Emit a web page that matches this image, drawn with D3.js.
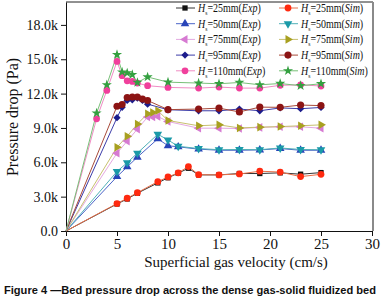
<!DOCTYPE html>
<html>
<head>
<meta charset="utf-8">
<script src="https://cdn.jsdelivr.net/npm/d3@7"></script>
<style>
body { margin: 0; background: #fff; }
svg { display: block; }
</style>
</head>
<body>
<div id="chart"></div>
<script>
// superficial gas velocity (cm/s) and pressure drop (k Pa) per bed height
const vel25 = [0, 5, 6, 7, 9, 10, 11, 12, 13, 15, 17, 19, 21, 23, 25];
const exp25 = [0, 2.36, 2.8, 3.3, 4.2, 4.65, 5.05, 5.48, 4.9, 4.9, 5.02, 5.02, 5.08, 4.96, 5.1];
const sim25 = [0, 2.4, 2.86, 3.35, 4.31, 4.72, 5.08, 5.63, 4.92, 4.9, 4.98, 5.22, 5.15, 4.75, 4.95];

const vel50 = [0, 5, 6, 7, 9, 10, 11, 13, 15, 17, 19, 21, 23, 25];
const exp50 = [0, 4.75, 5.6, 6.45, 8.05, 7.45, 7.35, 7.15, 7.05, 7.05, 7.08, 7.2, 7.05, 7.05];
const sim50 = [0, 5.2, 5.97, 6.8, 8.45, 7.95, 7.4, 7.2, 7.1, 7.12, 7.1, 7.25, 7.12, 7.1];

const vel75 = [0, 5, 6, 7, 8, 8.5, 9, 10, 13, 15, 17, 19, 21, 23, 25];
const exp75 = [0, 6.8, 7.85, 8.9, 9.95, 9.95, 10.0, 9.56, 8.98, 8.98, 8.95, 9.05, 9.1, 9.1, 8.98];
const sim75 = [0, 7.32, 8.28, 9.35, 10.24, 10.35, 10.5, 9.65, 9.19, 9.27, 9.0, 9.07, 9.12, 9.19, 9.27];

const vel95 = [0, 5, 5.5, 6, 6.5, 7, 7.5, 8, 10, 13, 15, 17, 19, 21, 23, 25];
const exp95 = [0, 9.9, 10.8, 11.4, 11.46, 11.6, 11.4, 11.08, 10.59, 10.5, 10.5, 10.65, 10.5, 10.75, 10.68, 10.79];
const sim95 = [0, 10.9, 11.05, 11.66, 11.7, 11.7, 11.52, 11.4, 10.6, 10.65, 10.73, 10.4, 10.82, 10.8, 11.0, 10.95];

const vel110 = [0, 3, 4, 5, 5.5, 6, 6.5, 7, 8, 10, 13, 15, 17, 19, 21, 23, 25];
const exp110 = [0, 9.8, 12.28, 14.81, 13.56, 13.12, 13.06, 12.92, 12.69, 12.54, 12.48, 12.57, 12.48, 12.48, 12.72, 12.77, 12.66];
const sim110 = [0, 10.3, 12.77, 15.4, 13.88, 13.8, 13.65, 12.97, 13.45, 13.0, 12.92, 12.86, 12.97, 12.77, 12.88, 12.69, 12.86];

const heights = ["25", "50", "75", "95", "110"];
const xTicks = [0, 5, 10, 15, 20, 25, 30];
const yTicks = [0, 3, 6, 9, 12, 15, 18];

function PressureChart(id) {
    var self = this;
    self.sectionId = id;
    self.initVis();
}

PressureChart.prototype.initVis = function () {
    var self = this;

    self.width = 386;
    self.height = 308;
    self.plot = { left: 66, right: 372, top: 2, bottom: 231 };

    self.svg = d3.select(`#${self.sectionId}`)
        .append("svg")
        .attr("width", self.width)
        .attr("height", self.height);

    self.x = d3.scaleLinear().domain([0, 30]).range([self.plot.left, self.plot.right]);
    self.y = d3.scaleLinear().domain([0, 20]).range([self.plot.bottom, self.plot.top]);

    // series table built from the arrays above
    let vels = [vel25, vel50, vel75, vel95, vel110];
    let exps = [exp25, exp50, exp75, exp95, exp110];
    let sims = [sim25, sim50, sim75, sim95, sim110];

    // marker + colour style per series (exp, sim)
    let styles = [
        [{ sym: d3.symbolSquare, size: 28, rot: 0, fill: "#111", line: "#333" },
         { sym: d3.symbolCircle, size: 36, rot: 0, fill: "#ff2a10", line: "#e8704a" }],
        [{ sym: d3.symbolTriangle, size: 32, rot: 0, fill: "#2844b8", line: "#4a64c8" },
         { sym: d3.symbolTriangle, size: 32, rot: 180, fill: "#1a9aa8", line: "#50b0b8" }],
        [{ sym: d3.symbolTriangle, size: 32, rot: -90, fill: "#d67ad2", line: "#e4a8e0" },
         { sym: d3.symbolTriangle, size: 32, rot: 90, fill: "#a8a020", line: "#c8c070" }],
        [{ sym: d3.symbolDiamond2, size: 34, rot: 0, fill: "#1c1c8c", line: "#3c3ca8" },
         { sym: d3.symbolCircle, size: 40, rot: 0, fill: "#8c1414", line: "#a84a3a" }],
        [{ sym: d3.symbolCircle, size: 36, rot: 0, fill: "#f0409c", line: "#f08cc4" },
         { sym: d3.symbolStar, size: 32, rot: 0, fill: "#34a040", line: "#78c078" }]
    ];

    self.series = [];
    heights.forEach(function (h, i) {
        self.series.push({ label: h, kind: "Exp", style: styles[i][0],
            points: vels[i].map((v, j) => ({ v: v, p: exps[i][j] })) });
        self.series.push({ label: h, kind: "Sim", style: styles[i][1],
            points: vels[i].map((v, j) => ({ v: v, p: sims[i][j] })) });
    });

    // frame: top and right
    self.svg.append("line")
        .attr("x1", self.plot.left).attr("x2", self.plot.right + 1)
        .attr("y1", self.plot.top).attr("y2", self.plot.top)
        .attr("stroke", "#222").attr("stroke-width", 1);
    self.svg.append("line")
        .attr("x1", self.plot.right + 1).attr("x2", self.plot.right + 1)
        .attr("y1", self.plot.top).attr("y2", self.plot.bottom)
        .attr("stroke", "#8a8a8a").attr("stroke-width", 2);

    self.svg.append("g")
        .attr("transform", `translate(0,${self.plot.bottom})`)
        .call(d3.axisBottom(self.x).tickValues(xTicks).tickSize(5).tickSizeOuter(0).tickFormat(d3.format("d")))
        .call(g => g.selectAll("text").attr("font-size", 15).attr("dy", "0.68em"));

    self.svg.append("g")
        .attr("transform", `translate(${self.plot.left},0)`)
        .call(d3.axisLeft(self.y).tickValues(yTicks).tickSize(5).tickSizeOuter(0)
            .tickFormat(d => d === 0 ? "0.0" : d.toFixed(1) + "k"))
        .call(g => g.selectAll("text").attr("font-size", 14));

    self.svg.selectAll(".domain, .tick line").attr("stroke", "#111");
    self.svg.selectAll(".tick text")
        .attr("font-family", "Liberation Serif, Times New Roman, serif")
        .attr("fill", "#111");

    // lines
    let line = d3.line().x(d => self.x(d.v)).y(d => self.y(d.p));
    self.svg.selectAll(".series-line")
        .data(self.series)
        .join("path")
        .attr("class", "series-line")
        .attr("fill", "none")
        .attr("stroke", d => d.style.line)
        .attr("stroke-width", 1)
        .attr("d", d => line(d.points));

    // markers (Exp first, Sim on top)
    let ordered = self.series.filter(s => s.kind === "Exp").concat(self.series.filter(s => s.kind === "Sim"));
    ordered.forEach(function (s) {
        self.svg.append("g")
            .selectAll("path")
            .data(s.points.filter(d => d.v > 0))
            .join("path")
            .attr("d", d3.symbol().type(s.style.sym).size(s.style.size))
            .attr("transform", d => `translate(${self.x(d.v)},${self.y(d.p)}) rotate(${s.style.rot})`)
            .attr("fill", s.style.fill);
    });

    // legend
    let legend = self.svg.append("g").attr("class", "legend");
    let cols = { Exp: { lx: 176, mx: 185, tx: 198 }, Sim: { lx: 279, mx: 288, tx: 301 } };
    self.series.forEach(function (s, i) {
        let row = Math.floor(i / 2);
        let c = cols[s.kind];
        let yy = 8 + row * 15.7;
        legend.append("line")
            .attr("x1", c.lx).attr("x2", c.lx + 19)
            .attr("y1", yy).attr("y2", yy)
            .attr("stroke", s.style.line).attr("stroke-width", 1);
        legend.append("path")
            .attr("d", d3.symbol().type(s.style.sym).size(s.style.size))
            .attr("transform", `translate(${c.mx},${yy}) rotate(${s.style.rot})`)
            .attr("fill", s.style.fill);

        let tg = legend.append("g").attr("transform", `translate(${c.tx},${yy + 4}) scale(0.8,1)`);
        let t = tg.append("text")
            .attr("font-family", "Liberation Serif, Times New Roman, serif")
            .attr("font-size", 12.5)
            .attr("fill", "#111");
        t.append("tspan").attr("font-style", "italic").text("H");
        t.append("tspan").attr("font-size", 7).attr("dy", 3).text("s");
        t.append("tspan").attr("dy", -3).text("=" + s.label + "mm(");
        t.append("tspan").attr("font-style", "italic").text(s.kind);
        t.append("tspan").text(")");
    });

    // axis titles
    self.svg.append("text")
        .attr("x", 236).attr("y", 267)
        .attr("text-anchor", "middle")
        .attr("font-family", "Liberation Serif, Times New Roman, serif")
        .attr("font-size", 15)
        .attr("fill", "#111")
        .text("Superficial gas velocity (cm/s)");

    self.svg.append("text")
        .attr("transform", "translate(18,117) rotate(-90)")
        .attr("text-anchor", "middle")
        .attr("font-family", "Liberation Serif, Times New Roman, serif")
        .attr("font-size", 16)
        .attr("fill", "#111")
        .text("Pressure drop (Pa)");

    // caption
    self.svg.append("text")
        .attr("x", 4).attr("y", 294)
        .attr("font-family", "Liberation Sans, Arial, sans-serif")
        .attr("font-weight", "bold")
        .attr("font-size", 11)
        .attr("textLength", 372)
        .attr("lengthAdjust", "spacingAndGlyphs")
        .attr("fill", "#111")
        .text("Figure 4 \u2014Bed pressure drop across the dense gas-solid fluidized bed");
};

new PressureChart("chart");
</script>
</body>
</html>
